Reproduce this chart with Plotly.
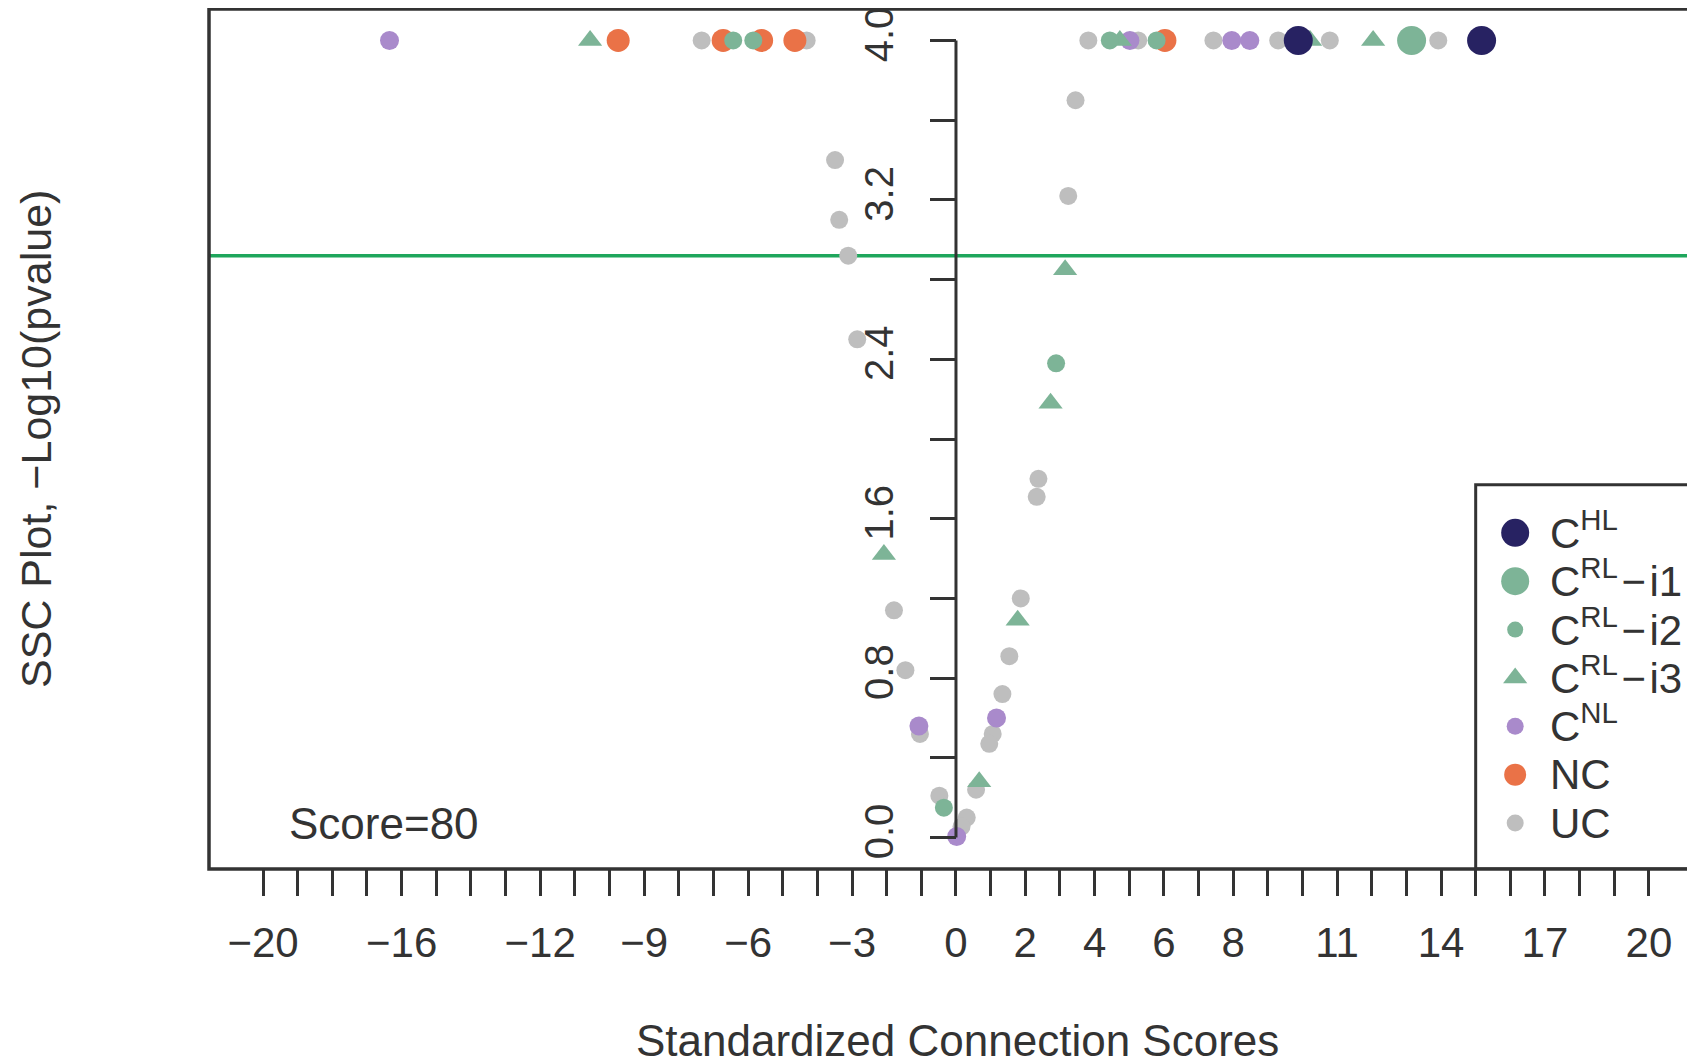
import plotly.graph_objects as go

# ---------------- data ----------------
x_tick_labels = [-20, -16, -12, -9, -6, -3, 0, 2, 4, 6, 8, 11, 14, 17, 20]
y_tick_labels = [0.0, 0.8, 1.6, 2.4, 3.2, 4.0]
threshold = 2.92

chl_x = [9.88, 15.17]
chl_y = [4.0, 4.0]

crl1_x = [13.15]
crl1_y = [4.0]

crl2_x = [-6.43, -5.85, 4.44, 5.79, 2.89, -0.35]
crl2_y = [4.0, 4.0, 4.0, 4.0, 2.38, 0.15]

crl3_x = [-10.56, 4.73, 10.22, 12.04, 3.15, 2.73, -2.08, 1.78, 0.67]
crl3_y = [4.0, 4.0, 4.0, 4.0, 2.85, 2.18, 1.42, 1.09, 0.28]

cnl_x = [-16.35, 5.02, 7.96, 8.48, -1.07, 1.17, 0.02]
cnl_y = [4.0, 4.0, 4.0, 4.0, 0.56, 0.60, 0.005]

nc_x = [-9.75, -6.72, -5.61, -4.65, 6.03]
nc_y = [4.0, 4.0, 4.0, 4.0, 4.0]

uc_x = [-7.34, -4.31, 3.82, 5.26, 7.43, 9.30, 10.79, 13.92,
        3.45, -3.49, 3.24, -3.37, -3.11, -2.85, 2.38, 2.33, -1.79, 1.87,
        1.54, -1.46, 1.34, -1.04, 1.06, 0.96, 0.58, -0.48, 0.31, 0.16]
uc_y = [4.0, 4.0, 4.0, 4.0, 4.0, 4.0, 4.0, 4.0,
        3.70, 3.40, 3.22, 3.10, 2.92, 2.50, 1.80, 1.71, 1.14, 1.20,
        0.91, 0.84, 0.72, 0.52, 0.52, 0.47, 0.24, 0.21, 0.10, 0.055]

HS = "\u200a"
legend_names = ["C<sup>HL</sup>",
                "C<sup>RL</sup>" + HS + "\u2212" + HS + "i1",
                "C<sup>RL</sup>" + HS + "\u2212" + HS + "i2",
                "C<sup>RL</sup>" + HS + "\u2212" + HS + "i3",
                "C<sup>NL</sup>", "NC", "UC"]
score_text = "Score=80"

# ---------------- styles ----------------
NAVY = "#272262"
GREEN = "#7DB497"
PURPLE = "#A98ACB"
ORANGE = "#EA7247"
GRAY = "#BEBEBE"
LINEGREEN = "#1FA65C"
INK = "#333333"
FONT = "Liberation Sans, Arial, Helvetica, sans-serif"

series = [
    # name, x, y, color, size, symbol
    ("UC", uc_x, uc_y, GRAY, 18, "circle"),
    ("NC", nc_x, nc_y, ORANGE, 23, "circle"),
    ("CNL", cnl_x, cnl_y, PURPLE, 19, "circle"),
    ("CRL-i3", crl3_x, crl3_y, GREEN, 21, "triangle-up"),
    ("CRL-i2", crl2_x, crl2_y, GREEN, 18, "circle"),
    ("CRL-i1", crl1_x, crl1_y, GREEN, 29, "circle"),
    ("CHL", chl_x, chl_y, NAVY, 29, "circle"),
]
legend_style = [
    (NAVY, 28, "circle"), (GREEN, 28, "circle"), (GREEN, 16, "circle"),
    (GREEN, 21, "triangle-up"), (PURPLE, 17, "circle"), (ORANGE, 22, "circle"),
    (GRAY, 17, "circle"),
]

XMIN, XMAX = -21.56, 21.33
YMIN, YMAX = -0.158, 4.158

fig = go.Figure()

for name, xs, ys, col, sz, sym in series:
    fig.add_trace(go.Scatter(
        x=xs, y=ys, mode="markers", name=name, showlegend=False,
        marker=dict(color=col, size=sz, symbol=sym, line=dict(width=0)),
        cliponaxis=False,
    ))

# manual legend (R-style legend box, placed in data coordinates)
leg_x_marker = 16.14
leg_x_text = 17.08
leg_y0 = 1.529
leg_dy = 0.2427
for i, (nm, (col, sz, sym)) in enumerate(zip(legend_names, legend_style)):
    yy = leg_y0 - i * leg_dy
    fig.add_trace(go.Scatter(
        x=[leg_x_marker], y=[yy], mode="markers", showlegend=False,
        marker=dict(color=col, size=sz, symbol=sym, line=dict(width=0)),
        hoverinfo="skip",
    ))
    fig.add_annotation(
        x=leg_x_text, y=yy, xref="x", yref="y", text=nm, showarrow=False,
        xanchor="left", yanchor="middle",
        yshift=(3 if "sup" in nm else 0),
        font=dict(family=FONT, size=42, color=INK),
    )

# threshold line
fig.add_shape(type="line", xref="paper", yref="y", x0=0, x1=1,
              y0=threshold, y1=threshold, line=dict(color=LINEGREEN, width=3.5),
              layer="below")

# y-axis line at x = 0 from 0 to 4
fig.add_shape(type="line", xref="x", yref="y", x0=0, x1=0, y0=0, y1=4.0,
              line=dict(color=INK, width=3))

# plot box (right side runs past the picture edge)
fig.add_shape(type="rect", xref="paper", yref="paper", x0=0, x1=1.05, y0=0, y1=1,
              line=dict(color=INK, width=3.5))

# legend box
fig.add_shape(type="rect", xref="x", yref="y", x0=15, x1=24, y0=YMIN, y1=1.77,
              line=dict(color=INK, width=3))

# score text
fig.add_annotation(x=-19.31, y=0.069, xref="x", yref="y", text=score_text,
                   showarrow=False, xanchor="left", yanchor="middle",
                   font=dict(family=FONT, size=44, color=INK))

# axis titles
fig.add_annotation(x=(958 - 209) / 1486, y=-0.199, xref="paper", yref="paper",
                   text="Standardized Connection Scores", showarrow=False,
                   xanchor="center", yanchor="middle",
                   font=dict(family=FONT, size=44, color=INK))
fig.add_annotation(x=(36 - 209) / 1486, y=0.5, xref="paper", yref="paper",
                   text="SSC Plot, \u2212Log10(pvalue)", showarrow=False,
                   textangle=-90, xanchor="center", yanchor="middle",
                   font=dict(family=FONT, size=43, color=INK))

x_ticks = list(range(-20, 21))
x_text = [(("\u2212" + str(-v)) if v < 0 else str(v)) if v in x_tick_labels else "" for v in x_ticks]
y_ticks = [round(0.4 * i, 1) for i in range(11)]
y_text = [f"{v:.1f}" if any(abs(v - t) < 1e-9 for t in y_tick_labels) else "" for v in y_ticks]

# page has an 8px default body margin, so the figure is 8px smaller and shifted
fig.update_layout(
    width=1687, height=1052,
    margin=dict(l=201, r=0, t=1, b=191, autoexpand=False),
    paper_bgcolor="white", plot_bgcolor="white",
    font=dict(family=FONT, color=INK),
    xaxis=dict(range=[XMIN, XMAX], tickmode="array", tickvals=x_ticks, ticktext=x_text,
               ticks="outside", ticklen=26, tickwidth=3, tickcolor=INK,
               ticklabelstandoff=11, automargin=False,
               showline=False, showgrid=False, zeroline=False,
               tickfont=dict(family=FONT, size=42, color=INK)),
    yaxis=dict(range=[YMIN, YMAX], tickmode="array", tickvals=y_ticks, ticktext=y_text,
               anchor="free", position=(0 - XMIN) / (XMAX - XMIN),
               ticks="outside", ticklen=26, tickwidth=3, tickcolor=INK,
               tickangle=-90, ticklabelstandoff=21, ticklabeloverflow="allow",
               automargin=False,
               showline=False, showgrid=False, zeroline=False,
               tickfont=dict(family=FONT, size=40, color=INK)),
    showlegend=False,
)

fig.write_html("out.html")
